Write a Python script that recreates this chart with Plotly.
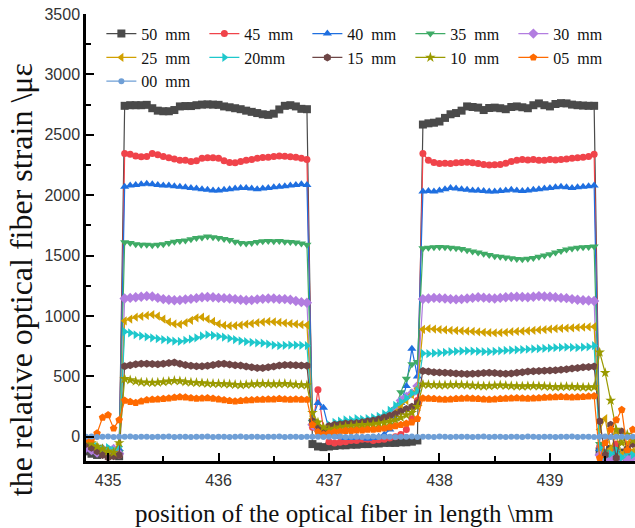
import plotly.graph_objects as go

# sampling grid of the fibre position (mm)
x_pos = [round(434.80 + 0.05 * i, 2) for i in range(100)]

labels = ["50\u00a0 mm", "45\u00a0 mm", "40\u00a0 mm", "35\u00a0 mm", "30\u00a0 mm",
          "25\u00a0 mm", "20mm", "15\u00a0 mm", "10\u00a0 mm", "05\u00a0 mm", "00\u00a0 mm"]

# segments: left edge (7) | left plateau (34) | dip (20) | right plateau (32) | right edge (7)
s50 = ([-120, -140, -150, -130, -140, -150, -160]
       + [2740, 2745, 2745, 2745, 2748, 2720, 2700, 2695, 2695, 2705, 2735, 2738, 2738, 2745, 2750, 2752, 2750,
          2748, 2735, 2728, 2720, 2712, 2700, 2690, 2680, 2670, 2665, 2675, 2710, 2740, 2745, 2735, 2715, 2712]
       + [-60, -80, -85, -80, -75, -70, -70, -65, -65, -60, -60, -55, -55, -50, -50, -50, -45, -45, -40, -30]
       + [2585, 2595, 2600, 2610, 2640, 2670, 2680, 2700, 2735, 2730, 2725, 2705, 2722, 2725, 2720, 2712,
          2730, 2735, 2728, 2720, 2745, 2760, 2745, 2735, 2755, 2762, 2760, 2750, 2745, 2742, 2740, 2740]
       + [-120, -150, -100, -160, -130, -170, -140])

s45 = ([-80, -100, -120, -110, -100, -130, -150]
       + [2345, 2340, 2325, 2318, 2320, 2345, 2335, 2320, 2310, 2300, 2290, 2290, 2280, 2285, 2305, 2310, 2310,
          2305, 2285, 2270, 2268, 2280, 2290, 2295, 2305, 2312, 2315, 2320, 2325, 2322, 2318, 2315, 2305, 2295]
       + [80, 390, 60, -40, -50, -45, -40, -30, -30, -20, -20, -30, -25, -20, -10, 0, 20, 60, 150, 300]
       + [2345, 2290, 2270, 2262, 2265, 2262, 2268, 2270, 2272, 2268, 2262, 2255, 2250, 2252, 2255, 2265,
          2280, 2290, 2295, 2292, 2295, 2290, 2290, 2295, 2292, 2295, 2300, 2305, 2310, 2315, 2320, 2340]
       + [-80, -180, -120, -60, -150, -100, -130])

s40 = ([-60, -80, -100, -90, -110, -120, -100]
       + [2070, 2080, 2085, 2090, 2095, 2090, 2085, 2080, 2080, 2075, 2070, 2065, 2060, 2055, 2050, 2045, 2040,
          2040, 2045, 2050, 2055, 2060, 2060, 2055, 2050, 2055, 2060, 2065, 2070, 2075, 2080, 2085, 2090, 2085]
       + [150, 280, 240, 60, 20, 0, -10, -10, 0, -5, -15, -10, 0, 20, 60, 150, 280, 420, 730, 500]
       + [2030, 2035, 2030, 2040, 2050, 2060, 2055, 2050, 2045, 2040, 2040, 2035, 2030, 2030, 2035, 2040,
          2045, 2040, 2035, 2040, 2045, 2050, 2055, 2060, 2065, 2070, 2065, 2060, 2065, 2070, 2075, 2080]
       + [-100, -150, -180, -120, -160, -110, -140])

s35 = ([-70, -90, -110, -120, -100, -110, -130]
       + [1610, 1605, 1595, 1590, 1590, 1585, 1590, 1595, 1605, 1615, 1620, 1625, 1635, 1645, 1650, 1658, 1652,
          1645, 1638, 1630, 1615, 1605, 1600, 1605, 1612, 1618, 1620, 1618, 1620, 1615, 1612, 1608, 1600, 1590]
       + [120, 40, 60, 50, 60, 80, 90, 95, 100, 105, 110, 115, 125, 140, 170, 230, 370, 480, 600, 620]
       + [1560, 1565, 1570, 1572, 1570, 1565, 1560, 1555, 1545, 1535, 1525, 1515, 1505, 1495, 1490, 1485,
          1478, 1472, 1470, 1475, 1480, 1490, 1500, 1512, 1525, 1538, 1550, 1558, 1565, 1570, 1572, 1575]
       + [-60, -120, -160, -100, -140, -180, -120])

s30 = ([-90, -110, -130, -140, -120, -100, -140]
       + [1145, 1150, 1155, 1160, 1165, 1162, 1150, 1140, 1135, 1130, 1132, 1138, 1142, 1148, 1155, 1158, 1155,
          1150, 1148, 1145, 1140, 1135, 1130, 1132, 1138, 1142, 1145, 1145, 1140, 1140, 1135, 1125, 1115, 1110]
       + [100, 60, 50, 60, 70, 80, 90, 95, 100, 110, 120, 130, 145, 165, 190, 230, 300, 330, 360, 420]
       + [1140, 1145, 1150, 1148, 1145, 1140, 1138, 1140, 1145, 1150, 1155, 1152, 1148, 1145, 1150, 1155,
          1158, 1160, 1158, 1155, 1160, 1165, 1162, 1160, 1155, 1150, 1148, 1140, 1135, 1130, 1128, 1125]
       + [-150, -190, -170, -190, -160, -185, -170])

s25 = ([-50, -70, -90, -110, -130, -120, -60]
       + [960, 975, 990, 998, 1005, 1012, 1000, 975, 950, 935, 930, 945, 965, 985, 990, 975, 955,
          935, 922, 918, 920, 925, 932, 938, 945, 950, 955, 952, 948, 942, 938, 932, 928, 925]
       + [150, 100, 60, 40, 50, 60, 65, 70, 75, 80, 90, 100, 110, 130, 160, 200, 250, 300, 350, 400]
       + [890, 895, 892, 888, 885, 882, 880, 878, 875, 872, 868, 865, 862, 860, 862, 865,
          870, 872, 875, 878, 882, 885, 888, 892, 895, 898, 900, 902, 905, 908, 910, 912]
       + [60, 150, -100, 20, -150, -60, -120])

s20 = ([-40, -60, -80, -100, -90, -110, -80]
       + [870, 860, 845, 835, 828, 820, 812, 805, 800, 792, 790, 798, 808, 820, 835, 845, 840,
          832, 825, 815, 805, 795, 788, 782, 778, 775, 768, 760, 755, 758, 760, 760, 758, 755]
       + [130, 90, 60, 100, 120, 130, 140, 140, 150, 145, 150, 160, 170, 190, 220, 260, 290, 320, 360, 380]
       + [690, 688, 692, 695, 700, 705, 708, 710, 712, 710, 708, 705, 705, 708, 712, 715,
          718, 720, 722, 725, 728, 730, 732, 735, 738, 740, 742, 740, 738, 742, 745, 755]
       + [-90, -160, -140, -110, -170, -130, -150])

s15 = ([-60, -90, -120, -150, -170, -160, -150]
       + [585, 592, 600, 605, 605, 602, 600, 605, 612, 615, 605, 595, 588, 585, 585, 588, 595,
          602, 605, 598, 592, 590, 582, 575, 570, 570, 575, 582, 590, 595, 595, 592, 590, 588]
       + [130, 80, 60, 90, 100, 105, 110, 112, 115, 120, 128, 135, 145, 160, 175, 190, 210, 230, 250, 280]
       + [545, 540, 535, 532, 530, 528, 525, 522, 520, 522, 525, 528, 530, 528, 525, 522,
          525, 530, 535, 540, 542, 545, 548, 550, 552, 555, 560, 565, 570, 575, 578, 582]
       + [130, -150, 100, -175, 45, -100, -60])

s10 = ([-30, -50, -80, -100, -120, -130, -50]
       + [480, 470, 460, 452, 450, 448, 450, 455, 460, 465, 462, 455, 450, 448, 445, 442, 440,
          440, 438, 436, 432, 430, 432, 436, 438, 440, 438, 436, 438, 440, 436, 432, 430, 428]
       + [200, 120, 80, 60, 70, 80, 85, 90, 95, 100, 100, 105, 110, 115, 125, 140, 160, 180, 200, 250]
       + [435, 432, 430, 428, 428, 430, 432, 430, 428, 425, 422, 420, 422, 425, 428, 425,
          422, 420, 418, 420, 422, 420, 418, 415, 412, 414, 416, 414, 412, 410, 410, 412]
       + [700, 530, 300, 60, -50, 20, -30])

s05 = ([-20, -20, 30, 160, 180, 70, 140]
       + [300, 290, 282, 295, 305, 310, 312, 315, 320, 325, 330, 328, 322, 318, 320, 322, 318,
          312, 305, 298, 295, 298, 302, 305, 308, 310, 312, 312, 315, 312, 310, 312, 310, 308]
       + [100, 40, 20, 30, 40, 45, 50, 50, 55, 55, 60, 60, 65, 70, 80, 90, 100, 110, 120, 150]
       + [320, 318, 315, 312, 310, 312, 315, 318, 320, 318, 315, 312, 310, 312, 315, 318,
          320, 322, 320, 318, 320, 322, 325, 328, 330, 332, 330, 328, 330, 332, 335, 338]
       + [-175, -50, 60, 140, 225, -110, 60])

s00 = ([0, 2, -2, 0, 3, -1, 0]
       + [0, 2, -1, 1, 0, -2, 1, 0, 2, -1, 0, 1, -2, 0, 1, 2, -1,
          0, 1, -1, 0, 2, -2, 1, 0, -1, 1, 0, 2, -1, 0, 1, -1, 0]
       + [1, 0, -2, 1, 0, 2, -1, 0, 1, -1, 0, 2, -2, 1, 0, -1, 1, 0, 2, -1]
       + [0, 1, -1, 2, 0, -2, 1, 0, 1, -1, 0, 2, -1, 0, 1, -2,
          0, 1, -1, 2, 0, -1, 1, 0, -2, 1, 0, 2, -1, 0, 1, -1]
       + [0, 2, -1, 1, 0, -2, 1])

series = [s50, s45, s40, s35, s30, s25, s20, s15, s10, s05, s00]
colors = ["#4a4a4a", "#f0434a", "#1f6fe0", "#3fab66", "#b27de0", "#d1a000",
          "#1ec8cc", "#6e4646", "#9a9a00", "#ff6a00", "#6f9fd6"]
symbols = ["square", "circle", "triangle-up", "triangle-down", "diamond", "triangle-left",
           "triangle-right", "hexagon", "star", "pentagon", "circle"]
sizes = [8, 7, 8, 8, 8, 8, 8, 8, 8, 8, 6]

fig = go.Figure()
for lab, ys, c, s, ms in zip(labels, series, colors, symbols, sizes):
    assert len(ys) == len(x_pos), (lab, len(ys))
    fig.add_trace(go.Scatter(x=x_pos, y=ys, mode="lines+markers", name=lab,
                             line=dict(color=c, width=1.2),
                             marker=dict(symbol=s, size=ms, color=c, line=dict(width=0))))

axis_common = dict(showline=True, linecolor="black", linewidth=2.5, mirror=False,
                   ticks="inside", ticklen=8, tickwidth=2, tickcolor="black",
                   showgrid=False, zeroline=False, automargin=False,
                   tickfont=dict(family="Liberation Sans", size=16, color="#333"))

fig.update_layout(
    width=635, height=528,
    margin=dict(l=86, r=0, t=14, b=67),
    paper_bgcolor="white", plot_bgcolor="white",
    xaxis=dict(range=[434.80, 439.77], tick0=435, dtick=1, ticklabelstandoff=3,
               minor=dict(dtick=0.5, ticks="inside", ticklen=5, tickwidth=2, tickcolor="black"),
               **axis_common),
    yaxis=dict(range=[-200, 3500], tick0=0, dtick=500, ticklabelstandoff=0,
               minor=dict(dtick=250, ticks="inside", ticklen=5, tickwidth=2, tickcolor="black"),
               **axis_common),
    legend=dict(orientation="h", x=0.028, y=0.994, xanchor="left", yanchor="top",
                entrywidth=58, entrywidthmode="pixels", tracegroupgap=0,
                font=dict(family="Liberation Serif", size=16, color="#111"),
                bgcolor="rgba(0,0,0,0)"),
    showlegend=True,
    annotations=[
        dict(text="the relative optical fiber strain \\\u03bc\u03b5", xref="paper", yref="paper",
             x=-0.118, y=0.405, xanchor="center", yanchor="middle", textangle=-90, showarrow=False,
             font=dict(family="Liberation Serif", size=32, color="#111")),
        dict(text="position of the optical fiber in length \\mm", xref="paper", yref="paper",
             x=0.47, y=-0.118, xanchor="center", yanchor="middle", showarrow=False,
             font=dict(family="Liberation Serif", size=25, color="#111")),
    ],
)

fig.write_html("out.html", config={"displayModeBar": False},
               post_script="document.body.style.margin='0';")
